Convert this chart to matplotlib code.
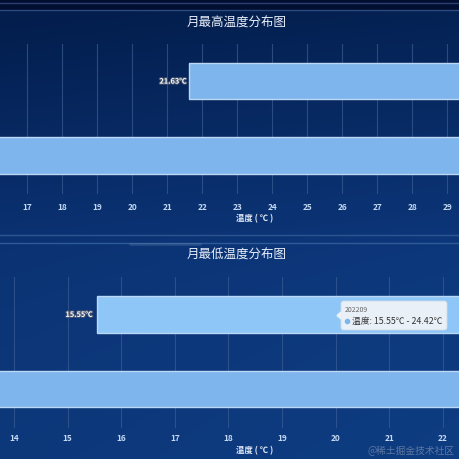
import numpy as np
import matplotlib.pyplot as plt
import matplotlib.patheffects as pe
from matplotlib.patches import FancyBboxPatch

plt.rcParams['font.family'] = ['Noto Sans CJK SC', 'DejaVu Sans']

# data
months = ['202208', '202209']
max_start = [15.20, 21.63]
max_end = [35.60, 33.80]
min_start = [12.80, 15.55]
min_end = [26.10, 24.42]
max_ticks = list(range(17, 30))
min_ticks = list(range(14, 23))

W, H = 460, 460
fig = plt.figure(figsize=(W / 100, H / 100), dpi=100)

# background gradient
bg = fig.add_axes([0, 0, 1, 1])
yy = np.linspace(0, 1, H)[:, None]
xx = np.linspace(0, 1, W)[None, :]
top = np.array([0.01, 0.11, 0.29])
mid = np.array([0.04, 0.19, 0.44])
low = np.array([0.05, 0.22, 0.48])
t = np.clip(yy / 0.5, 0, 1)
col_a = top + (mid - top) * t[..., None]
t2 = np.clip((yy - 0.5) / 0.5, 0, 1)
col_b = mid + (low - mid) * np.sqrt(t2)[..., None]
img = np.where((yy < 0.5)[..., None], col_a, col_b) * np.ones((1, W, 1))
img = img + (0.03 * xx)[..., None] * np.array([0.2, 0.6, 1.0])
img[:11] = np.array([0.01, 0.06, 0.19])
img = np.clip(img, 0, 1)
bg.imshow(img, extent=[0, W, H, 0], aspect='auto')
bg.set_xlim(0, W)
bg.set_ylim(H, 0)
bg.axis('off')
for y, c in [(3.5, '#28406e'), (11, '#2c4a80'), (236, '#2e5590'), (243.5, '#2e5a98')]:
    bg.plot([0, W], [y, y], color=c, lw=1.0)
bg.plot([130, 200], [244.5, 244.5], color='#8aa8c0', lw=2.0, alpha=0.2,
        solid_capstyle='round')

bar_col = '#7db5ec'
edge_col = '#bcd8f6'


def range_chart(box, start, end, xlim, ticks, title, title_y, label_y, pad, hover=None):
    ax = fig.add_axes(box)
    ax.set_facecolor('none')
    ys = np.arange(len(months))
    widths = np.array(end) - np.array(start)
    for i, (s, w) in enumerate(zip(start, widths)):
        fc = '#8ec6f7' if hover == i else bar_col
        ax.barh(ys[i], w, left=s, height=0.49, color=fc,
                edgecolor=edge_col, linewidth=1.0, zorder=3)
        if xlim[0] < s < xlim[1]:
            ax.text(s - 0.08, ys[i], f'{s:.2f}℃', ha='right', va='center',
                    fontsize=5.3, fontweight='bold', color='white', zorder=4,
                    path_effects=[pe.withStroke(linewidth=1.4, foreground='#4a5670')])
    ax.set_xlim(*xlim)
    ax.set_ylim(-0.52, 1.5)
    ax.set_xticks(ticks)
    ax.set_xticklabels([str(v) for v in ticks], fontsize=6, color='#c4daf4',
                       fontweight='bold')
    ax.tick_params(axis='x', length=0, pad=pad)
    ax.set_yticks([])
    ax.grid(axis='x', color='#3a5c92', lw=0.8, alpha=0.7, zorder=0)
    for s in ax.spines.values():
        s.set_visible(False)
    fig.text(237 / W, 1 - title_y / H, title, ha='center', va='center',
             fontsize=9, color='#eaf0fa')
    fig.text(255 / W, 1 - label_y / H, '温度 ( ℃ )', ha='center', va='center',
             fontsize=6, color='#e4ecf8', fontweight='bold')
    return ax


range_chart([0, 1 - 195 / H, 1, 150 / H], max_start, max_end,
            (16.22, 29.36), max_ticks, '月最高温度分布图', 23, 219, 6)
range_chart([0, 1 - 429 / H, 1, 151 / H], min_start, min_end,
            (13.74, 22.32), min_ticks, '月最低温度分布图', 255, 451, 3.5, hover=1)

# tooltip and watermark
ov = fig.add_axes([0, 0, 1, 1])
ov.set_xlim(0, W)
ov.set_ylim(H, 0)
ov.axis('off')
tip = FancyBboxPatch((341, 302), 106, 29, boxstyle='round,pad=0,rounding_size=2.5',
                     fc='#eef2f7', ec='#d0dae6', lw=0.6, alpha=0.96, zorder=10)
ov.add_patch(tip)
ov.fill([341, 337, 341], [313, 316.5, 320], color='#eef2f7', zorder=10)
ov.text(345, 310, months[1], fontsize=5, color='#666666', va='center', zorder=11)
ov.plot(347.5, 321.5, 'o', ms=3, color=bar_col, zorder=11)
ov.text(352, 321.5, f'温度: {min_start[1]:.2f}℃ - {min_end[1]:.2f}℃',
        fontsize=6.3, color='#333333', va='center', zorder=11)
ov.text(455, 451, '@稀土掘金技术社区', fontsize=7, color='#9aa8bb', alpha=0.55,
        ha='right', va='center', zorder=11)

fig.savefig('out.png', dpi=100)
